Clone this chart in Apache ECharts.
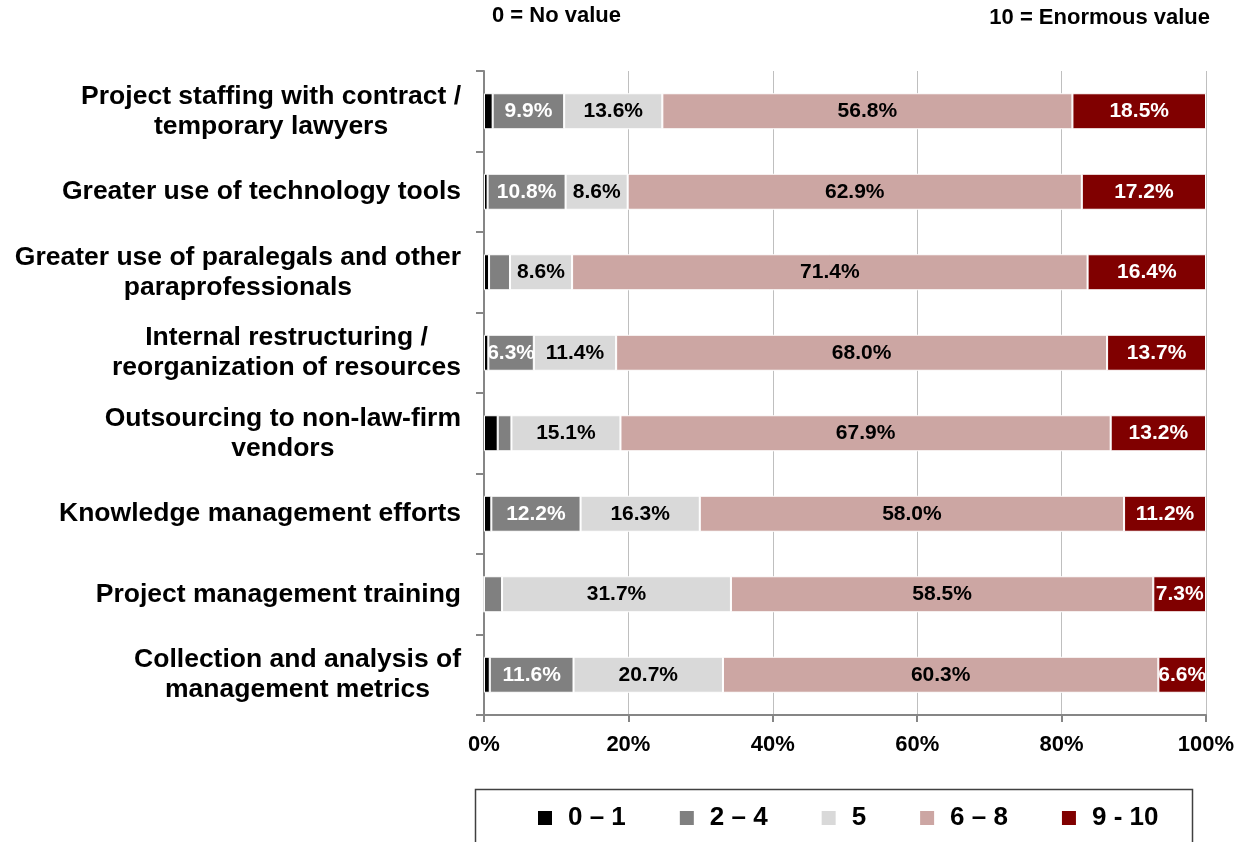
<!DOCTYPE html>
<html>
<head>
<meta charset="utf-8">
<script src="https://cdn.jsdelivr.net/npm/echarts@6/dist/echarts.min.js"></script>
<style>
  html, body { margin: 0; padding: 0; background: #fff; }
  #main { width: 1243px; height: 842px; }
</style>
</head>
<body>
<div id="main"></div>
<script>
// categories, top to bottom
var categories = [
  "Project staffing with contract /\ntemporary lawyers",
  "Greater use of technology tools",
  "Greater use of paralegals and other\nparaprofessionals",
  "Internal restructuring /\nreorganization of resources",
  "Outsourcing to non-law-firm\nvendors",
  "Knowledge management efforts",
  "Project management training",
  "Collection and analysis of\nmanagement metrics"
];
var seriesNames = ["0 \u2013 1", "2 \u2013 4", "5", "6 \u2013 8", "9 - 10"];
var score01 = [1.2, 0.5, 0.7, 0.6, 1.9, 1.0, 0.0, 0.8];
var score24 = [9.9, 10.8, 2.9, 6.3, 1.9, 12.2, 2.5, 11.6];
var score5 = [13.6, 8.6, 8.6, 11.4, 15.1, 16.3, 31.7, 20.7];
var score68 = [56.8, 62.9, 71.4, 68.0, 67.9, 58.0, 58.5, 60.3];
var score910 = [18.5, 17.2, 16.4, 13.7, 13.2, 11.2, 7.3, 6.6];
var xTicks = ["0%", "20%", "40%", "60%", "80%", "100%"];

var colors = ["#000000", "#808080", "#D9D9D9", "#CCA6A3", "#800000"];
var labelColors = ["#fff", "#fff", "#000", "#000", "#fff"];
var allData = [score01, score24, score5, score68, score910];
var catFont = "bold 26.5px Liberation Sans, Arial, sans-serif";

// row totals, bars are drawn as share of the row (100% stacked)
var rowSum = categories.map(function (c, i) {
  var s = 0;
  allData.forEach(function (arr) { s += arr[i]; });
  return s;
});

var myChart = echarts.init(document.getElementById("main"));

var series = allData.map(function (arr, k) {
  return {
    name: seriesNames[k],
    type: "bar",
    stack: "total",
    barWidth: 36,
    itemStyle: { color: colors[k], borderColor: "#fff", borderWidth: 1 },
    label: {
      show: true,
      position: "inside",
      color: labelColors[k],
      fontFamily: "Liberation Sans, Arial, sans-serif",
      fontWeight: "bold",
      fontSize: 21,
      formatter: function (p) {
        var v = arr[p.dataIndex];
        return v >= 5 ? v.toFixed(1) + "%" : "";
      }
    },
    data: arr.map(function (v, i) { return v / rowSum[i] * 100; })
  };
});

var option = {
  animation: false,
  color: colors,
  grid: { left: 484, right: 37, top: 71, bottom: 127 },
  legend: {
    data: seriesNames,
    left: 531,
    top: 800,
    itemWidth: 16,
    itemHeight: 16,
    itemGap: 52,
    icon: "rect",
    textStyle: {
      fontFamily: "Liberation Sans, Arial, sans-serif",
      fontWeight: "bold",
      fontSize: 26,
      color: "#000",
      padding: [0, 0, 0, 10]
    }
  },
  xAxis: {
    type: "value",
    min: 0,
    max: 100,
    interval: 20,
    axisLine: { show: true, lineStyle: { color: "#868686", width: 2 } },
    axisTick: { show: true, length: 7, lineStyle: { color: "#868686", width: 2 } },
    splitLine: { show: true, lineStyle: { color: "#BFBFBF", width: 1 } },
    axisLabel: {
      margin: 19,
      color: "#000",
      fontFamily: "Liberation Sans, Arial, sans-serif",
      fontWeight: "bold",
      fontSize: 22,
      formatter: function (v) { return xTicks[v / 20]; }
    }
  },
  yAxis: {
    type: "category",
    inverse: true,
    data: categories,
    axisLine: { show: true, lineStyle: { color: "#868686", width: 2 } },
    axisTick: { show: true, length: 8, lineStyle: { color: "#868686", width: 2 } },
    axisLabel: { show: false }
  },
  graphic: [
    {
      type: "text", left: 492, top: 5,
      style: { text: "0 = No value", font: "bold 22px Liberation Sans, Arial, sans-serif", fill: "#000" }
    },
    {
      type: "text", right: 33, top: 7,
      style: { text: "10 = Enormous value", font: "bold 22px Liberation Sans, Arial, sans-serif", fill: "#000" }
    },
    {
      type: "rect", left: 473, top: 787,
      shape: { width: 717, height: 70 },
      style: { fill: "none", stroke: "#404040", lineWidth: 1.5 }
    }
  ],
  series: series
};

myChart.setOption(option);

// category labels: block right-aligned to the axis, lines centred inside the block
var ctx = document.createElement("canvas").getContext("2d");
ctx.font = catFont;
var labelRight = 461;
var catLabels = categories.map(function (name) {
  var w = 0;
  name.split("\n").forEach(function (line) {
    w = Math.max(w, ctx.measureText(line).width);
  });
  var y = myChart.convertToPixel({ yAxisIndex: 0 }, name);
  return {
    type: "text",
    x: labelRight - w / 2,
    y: y,
    style: {
      text: name,
      font: catFont,
      fill: "#000",
      align: "center",
      verticalAlign: "middle",
      lineHeight: 30
    }
  };
});
myChart.setOption({ graphic: option.graphic.concat(catLabels) });
</script>
</body>
</html>
